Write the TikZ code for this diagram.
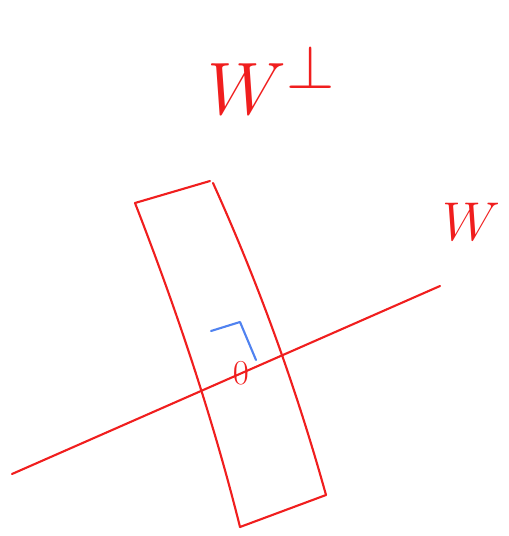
\documentclass[tikz,border=0pt]{standalone}
\usepackage{amsmath}
\usetikzlibrary{positioning, calc}
\definecolor{penred}{RGB}{240, 30, 30}
\definecolor{penblue}{RGB}{80, 130, 240}

\begin{document}
\begin{tikzpicture}[
    x=0.02cm, y=-0.02cm,
    stroke/.style={draw=penred, line width=1.2pt, line cap=round, line join=round},
    anglemark/.style={draw=penblue, line width=1.2pt, line cap=round, line join=round},
    label/.style={text=penred, inner sep=0pt, font=\Huge}
]
\useasboundingbox (0,0) rectangle (509,536);

% Line W
\coordinate (wstart) at (12,474);
\coordinate (wend) at (440,286);
\draw[stroke] (wstart) -- (wend);

% Strip for W perp
\coordinate (ptl) at (135,203);
\coordinate (ptr) at (210,181);
\coordinate (pbr) at (326,495);
\coordinate (pbl) at (240,527);
\draw[stroke] (ptl) -- (ptr);
\draw[stroke] (ptl) .. controls (177,311) and (213,419) .. (pbl);
\draw[stroke] (213,183) .. controls (260,287) and (297,391) .. (pbr);
\draw[stroke] (pbl) -- (pbr);

% Right angle and origin
\coordinate (ra1) at (211,331);
\coordinate (ra2) at (240,322);
\coordinate (ra3) at (256,360);
\draw[anglemark] (ra1) -- (ra2) -- (ra3);
\node[label, scale=0.8] (origin) at (241,373) {$0$};

% Labels
\node[label, scale=1.7] (wperp) at (272,80) {$W^{\perp}$};
\node[label, scale=1.25] (wlabel) at (471,222) {$W$};

\end{tikzpicture}
\end{document}
